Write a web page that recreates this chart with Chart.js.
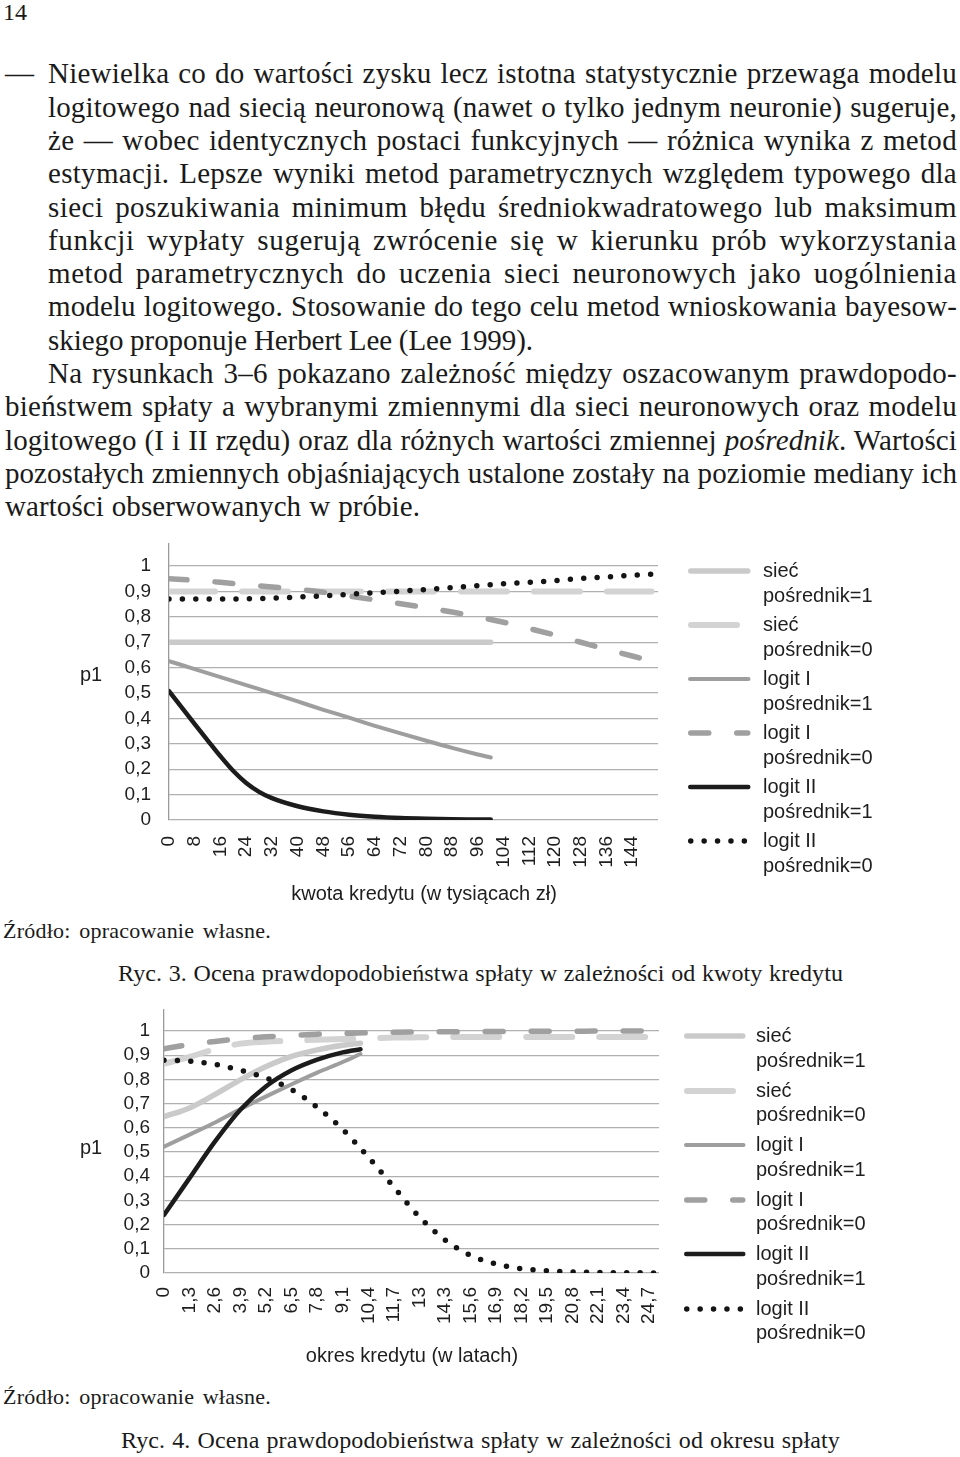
<!DOCTYPE html>
<html><head><meta charset="utf-8">
<script src="https://cdn.jsdelivr.net/npm/chart.js@4.4.1/dist/chart.umd.min.js"></script>
<style>
html,body{margin:0;padding:0;background:#fff;}
body{width:960px;height:1457px;position:relative;overflow:hidden;}
.t{position:absolute;white-space:nowrap;color:#1a1a1a;font-family:'Liberation Serif','Times New Roman',serif;}
.t span{white-space:pre;}
.lg{position:absolute;white-space:nowrap;font-family:'Liberation Sans',Arial,sans-serif;font-size:20px;line-height:24px;color:#1e1e1e;}
canvas.c{position:absolute;}
</style></head><body>
<canvas id="ch1" class="c" width="680" height="380" style="left:0;top:530px"></canvas>
<canvas id="ch2" class="c" width="680" height="370" style="left:0;top:1000px"></canvas>
<script>
// ---------- DATA ----------
const seriesNames = ['sieć','sieć','logit I','logit I','logit II','logit II'];
const posrednik = ['pośrednik=1','pośrednik=0','pośrednik=1','pośrednik=0','pośrednik=1','pośrednik=0'];
const yTicks = [0,0.1,0.2,0.3,0.4,0.5,0.6,0.7,0.8,0.9,1];
const yTickLabels = ['0','0,1','0,2','0,3','0,4','0,5','0,6','0,7','0,8','0,9','1'];

// Ryc. 3 – kwota kredytu (w tysiącach zł)
const kwotaTicks = [0,8,16,24,32,40,48,56,64,72,80,88,96,104,112,120,128,136,144];
const kwotaTickLabels = ['0','8','16','24','32','40','48','56','64','72','80','88','96','104','112','120','128','136','144'];
const kwotaX_p1 = [0,8,16,24,32,40,48,56,64,72,80,88,96,100];
const kwotaX_p0 = [0,8,16,24,32,40,48,56,64,72,80,88,96,104,112,120,128,136,144,150];
const kwotaX_l2p1 = [0,4,8,12,16,20,24,28,32,40,48,56,64,72,80,88,96,100];
const k_siec_p1 = [0.70,0.70,0.70,0.70,0.70,0.70,0.70,0.70,0.70,0.70,0.70,0.70,0.70,0.70];
const k_siec_p0 = [0.90,0.90,0.90,0.90,0.90,0.90,0.90,0.90,0.90,0.90,0.90,0.90,0.90,0.90,0.90,0.90,0.90,0.90,0.90,0.90];
const k_logitI_p1 = [0.626,0.594,0.563,0.531,0.500,0.467,0.434,0.403,0.371,0.341,0.312,0.284,0.258,0.246];
const k_logitI_p0 = [0.950,0.944,0.936,0.927,0.918,0.908,0.897,0.882,0.867,0.852,0.836,0.819,0.800,0.779,0.754,0.728,0.700,0.672,0.646,0.625];
const k_logitII_p1 = [0.508,0.443,0.378,0.314,0.251,0.193,0.146,0.111,0.086,0.054,0.034,0.021,0.013,0.008,0.005,0.003,0.002,0.002];
const k_logitII_p0 = [0.870,0.870,0.870,0.871,0.874,0.878,0.883,0.889,0.895,0.901,0.908,0.915,0.923,0.930,0.936,0.943,0.951,0.957,0.964,0.968];

// Ryc. 4 – okres kredytu (w latach)
const okresTicks = [0,1.3,2.6,3.9,5.2,6.5,7.8,9.1,10.4,11.7,13,14.3,15.6,16.9,18.2,19.5,20.8,22.1,23.4,24.7];
const okresTickLabels = ['0','1,3','2,6','3,9','5,2','6,5','7,8','9,1','10,4','11,7','13','14,3','15,6','16,9','18,2','19,5','20,8','22,1','23,4','24,7'];
const okresX_p1 = [0,1.3,2.6,3.9,5.2,6.5,7.8,9.1,10];
const okresX_p0 = [0,1.3,2.6,3.9,5.2,6.5,7.8,9.1,10.4,11.7,13,14.3,15.6,16.9,18.2,19.5,20.8,22.1,23.4,24.7,25];
const o_siec_p1 = [0.646,0.682,0.738,0.799,0.853,0.895,0.922,0.941,0.950];
const o_siec_p0 = [0.865,0.893,0.925,0.948,0.956,0.960,0.964,0.967,0.970,0.973,0.974,0.975,0.975,0.975,0.975,0.975,0.975,0.975,0.975,0.975,0.975];
const o_logitI_p1 = [0.522,0.572,0.622,0.678,0.730,0.780,0.828,0.872,0.905];
const o_logitI_p0 = [0.927,0.944,0.957,0.968,0.976,0.982,0.987,0.990,0.993,0.995,0.996,0.997,0.998,0.998,0.999,0.999,0.999,1.0,1.0,1.0,1.0];
const o_logitII_p1 = [0.240,0.392,0.544,0.676,0.772,0.838,0.882,0.912,0.925];
const o_logitII_p0 = [0.879,0.876,0.862,0.838,0.806,0.758,0.685,0.593,0.479,0.355,0.232,0.137,0.073,0.038,0.018,0.009,0.004,0.002,0.001,0.0005,0.0003];

// ---------- STYLES ----------
const styles = [
  {color:'#cacaca', width:5.5, dash:[]},
  {color:'#d3d3d3', width:6, dash:[46,27]},
  {color:'#9e9e9e', width:4, dash:[]},
  {color:'#a0a0a0', width:5.5, dash:[18,28]},
  {color:'#1c1c1c', width:4.5, dash:[]},
  {color:'#141414', width:5.5, dash:[0,13.4]}
];
const SANS = "'Liberation Sans', Arial, sans-serif";
Chart.defaults.font.family = SANS;
Chart.defaults.color = '#1e1e1e';

function pts(xs, ys){ return xs.map((x,i)=>({x:x, y:ys[i]})); }
function makeDatasets(xs, ys){
  return seriesNames.map((n,i)=>({
    label: n+' '+posrednik[i],
    data: pts(xs[i], ys[i]),
    borderColor: styles[i].color, borderWidth: styles[i].width, borderDash: styles[i].dash,
    borderCapStyle:'round', borderJoinStyle:'round', pointRadius:0, pointHoverRadius:0,
    cubicInterpolationMode:'monotone', fill:false, order: 10-i
  }));
}
const axisTitlesPlugin = {
  id:'axisTitles',
  afterDraw(chart, args, o){
    const ctx = chart.ctx; ctx.save();
    ctx.font = o.size+'px '+SANS; ctx.fillStyle = '#1e1e1e';
    ctx.textAlign = 'center'; ctx.textBaseline = 'middle';
    ctx.fillText(o.y.text, o.y.x, o.y.y);
    ctx.fillText(o.x.text, o.x.x, o.x.y);
    ctx.restore();
  }
};
function makeChart(id, datasets, geo, xTicks, xLabels, titles){
  return new Chart(document.getElementById(id), {
    type:'line',
    data:{datasets:datasets},
    options:{
      responsive:false, animation:false, events:[],
      layout:{padding:{left:0,right:geo.padR,top:geo.padT,bottom:0}},
      plugins:{legend:{display:false}, tooltip:{enabled:false}, axisTitles:titles},
      scales:{
        x:{type:'linear', min:0, max:geo.xMax,
          afterBuildTicks:s=>{ s.ticks = xTicks.map(v=>({value:v})); },
          afterFit:s=>{ s.height = geo.xH; s.paddingLeft = 0; s.paddingRight = 0; },
          ticks:{autoSkip:false, minRotation:90, maxRotation:90, padding:geo.xPad, font:{size:19}, callback:(v,i)=>xLabels[i]},
          grid:{display:false, drawTicks:false}, border:{display:false}},
        y:{type:'linear', min:0, max:1.087,
          afterBuildTicks:s=>{ s.ticks = yTicks.map(v=>({value:v})); },
          afterFit:s=>{ s.width = geo.yW; s.paddingTop = 0; s.paddingBottom = 0; },
          ticks:{padding:geo.yPad, font:{size:19}, callback:(v,i)=>yTickLabels[i]},
          grid:{color:'#b0b0b0', lineWidth:1.3, drawTicks:false},
          border:{display:true, color:'#9a9a9a', width:1.3}}
      }
    },
    plugins:[axisTitlesPlugin]
  });
}

const chart1 = makeChart('ch1',
  makeDatasets([kwotaX_p1,kwotaX_p0,kwotaX_p1,kwotaX_p0,kwotaX_l2p1,kwotaX_p0],
               [k_siec_p1,k_siec_p0,k_logitI_p1,k_logitI_p0,k_logitII_p1,k_logitII_p0]),
  {padR:22, padT:14, yW:169, xH:90, xMax:152, xPad:16, yPad:18},
  kwotaTicks, kwotaTickLabels,
  {size:20, y:{text:'p1', x:91, y:145}, x:{text:'kwota kredytu (w tysiącach zł)', x:424, y:364}});

const chart2 = makeChart('ch2',
  makeDatasets([okresX_p1,okresX_p0,okresX_p1,okresX_p0,okresX_p1,okresX_p0],
               [o_siec_p1,o_siec_p0,o_logitI_p1,o_logitI_p0,o_logitII_p1,o_logitII_p0]),
  {padR:21, padT:10, yW:164, xH:97, xMax:25.2, xPad:14, yPad:14},
  okresTicks, okresTickLabels,
  {size:20, y:{text:'p1', x:91, y:148}, x:{text:'okres kredytu (w latach)', x:412, y:356}});

// ---------- LEGENDS (built from datasets) ----------
function buildLegend(chart, g){
  chart.data.datasets.forEach((ds,i)=>{
    const y = g.top + i*g.step;
    const c = document.createElement('canvas');
    c.className='c'; c.width = 90; c.height = 14;
    c.style.left = (g.swL-6)+'px'; c.style.top = (y-7)+'px';
    const x = c.getContext('2d');
    x.strokeStyle = ds.borderColor; x.lineWidth = ds.borderWidth; x.lineCap='round';
    x.setLineDash(ds.borderDash);
    const w = ds.borderWidth;
    x.beginPath(); x.moveTo(6+w/2,7); x.lineTo(6+(g.swR-g.swL)-w/2,7); x.stroke();
    document.body.appendChild(c);
    [seriesNames[i], posrednik[i]].forEach((txt,k)=>{
      const d = document.createElement('div');
      d.className='lg'; d.textContent = txt;
      d.style.left = g.textL+'px'; d.style.top = (y + k*g.line2 - 13)+'px';
      document.body.appendChild(d);
    });
  });
}
buildLegend(chart1, {swL:687.5, swR:750, textL:763, top:571, step:54, line2:24.5});
buildLegend(chart2, {swL:683.5, swR:745, textL:756, top:1036, step:54.5, line2:24.5});

// ---------- TEXT ----------
function placeText(html, left, right, yc, fs){
  const d = document.createElement('div');
  d.className='t';
  d.style.fontSize = fs+'px'; d.style.lineHeight = (fs*1.2)+'px';
  d.style.left = left+'px';
  d.style.top = (yc - fs*0.6 - 0.1125*fs)+'px';
  const s = document.createElement('span'); s.innerHTML = html; d.appendChild(s);
  document.body.appendChild(d);
  if (right !== null){
    const w = s.getBoundingClientRect().width;
    const txt = s.textContent;
    const nS = (txt.match(/ /g)||[]).length, nC = txt.length;
    const diff = (right-left) - w;
    if (nS>0){
      s.style.letterSpacing = (diff*0.55/nC)+'px';
      s.style.wordSpacing = (diff*0.45/nS)+'px';
    } else {
      s.style.letterSpacing = (diff/nC)+'px';
    }
  }
}
const FS = 29, LH = 33.3, Y0 = 77;
const body = [
 [48,957,'Niewielka co do wartości zysku lecz istotna statystycznie przewaga modelu'],
 [48,957,'logitowego nad siecią neuronową (nawet o tylko jednym neuronie) sugeruje,'],
 [48,957,'że — wobec identycznych postaci funkcyjnych — różnica wynika z metod'],
 [48,957,'estymacji. Lepsze wyniki metod parametrycznych względem typowego dla'],
 [48,957,'sieci poszukiwania minimum błędu średniokwadratowego lub maksimum'],
 [48,957,'funkcji wypłaty sugerują zwrócenie się w kierunku prób wykorzystania'],
 [48,957,'metod parametrycznych do uczenia sieci neuronowych jako uogólnienia'],
 [48,957,'modelu logitowego. Stosowanie do tego celu metod wnioskowania bayesow-'],
 [48,533,'skiego proponuje Herbert Lee (Lee 1999).'],
 [48,957,'Na rysunkach 3–6 pokazano zależność między oszacowanym prawdopodo-'],
 [5,957,'bieństwem spłaty a wybranymi zmiennymi dla sieci neuronowych oraz modelu'],
 [5,957,'logitowego (I i II rzędu) oraz dla różnych wartości zmiennej <i>pośrednik</i>. Wartości'],
 [5,957,'pozostałych zmiennych objaśniających ustalone zostały na poziomie mediany ich'],
 [5,420,'wartości obserwowanych w próbie.']
];
body.forEach((b,i)=>placeText(b[2], b[0], b[1], Y0 + LH*i, FS));
placeText('—', 5, 32, Y0, FS);
(function(){ // page number
  const d = document.createElement('div'); d.className='t';
  d.style.fontSize='24px'; d.style.lineHeight='26px'; d.style.left='3px'; d.style.top='-1px';
  d.textContent='14'; document.body.appendChild(d);
})();
placeText('Źródło: opracowanie własne.', 3, 271, 934, 22);
placeText('Ryc. 3. Ocena prawdopodobieństwa spłaty w zależności od kwoty kredytu', 118, 843, 976, 24);
placeText('Źródło: opracowanie własne.', 3, 271, 1400, 22);
placeText('Ryc. 4. Ocena prawdopodobieństwa spłaty w zależności od okresu spłaty', 121, 840, 1443, 24);
</script>
</body></html>
